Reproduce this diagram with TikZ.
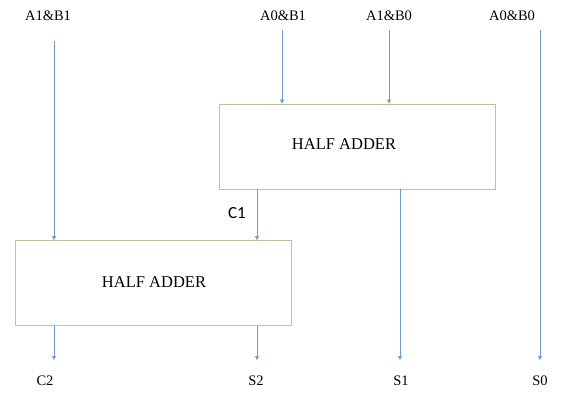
\documentclass[tikz,border=0pt]{standalone}
\usepackage{fontspec}
\setmainfont{Liberation Serif}
\newfontfamily\calib{Carlito}
\usetikzlibrary{arrows.meta}
\definecolor{wire}{RGB}{110,155,200}
\definecolor{boxc}{RGB}{185,195,160}
\begin{document}
\begin{tikzpicture}[x=1pt,y=-1pt,
  wirestyle/.style={draw=wire,line width=0.7pt,-{Triangle[width=4pt,length=4pt]}},
  ha/.style={draw=boxc,line width=0.8pt,fill=white,minimum width=276pt,minimum height=85pt,inner sep=0pt},
  hatext/.style={font=\fontsize{16.5}{19}\selectfont,inner sep=0pt},
  lbl/.style={font=\fontsize{14.5}{17}\selectfont,inner sep=0pt,anchor=center}]
\useasboundingbox (0,0) rectangle (580,415);
\node[ha] (ha1) at (357,146.5) {};
\node[ha] (ha2) at (153,283) {};
\node[hatext] (ha1t) at (344,144) {HALF ADDER};
\node[hatext] (ha2t) at (154,282) {HALF ADDER};
\node[lbl] (in1) at (48,16) {A1\&B1};
\node[lbl] (in2) at (283,16) {A0\&B1};
\node[lbl] (in3) at (389,16) {A1\&B0};
\node[lbl] (in4) at (512,16) {A0\&B0};
\node[lbl] (c2) at (45,381) {C2};
\node[lbl] (s2) at (256,381) {S2};
\node[lbl] (s1) at (401,381) {S1};
\node[lbl] (s0) at (540,381) {S0};
\node[font=\calib\fontsize{17}{20}\selectfont,inner sep=0pt] (c1) at (237,213) {C1};
\coordinate (t1) at (54,41);
\coordinate (t2) at (282,30);
\coordinate (t3) at (389,30);
\coordinate (t4) at (540,30);
\draw[wirestyle] (t1) -- (ha2.north -| t1);
\draw[wirestyle] (t2) -- (ha1.north -| t2);
\draw[wirestyle] (t3) -- (ha1.north -| t3);
\draw[wirestyle] (t4) -- (s0.north |- 0,360);
\draw[wirestyle] (ha1.south -| 257,0) -- (ha2.north -| 257,0);
\draw[wirestyle] (ha2.south -| t1) -- (54,360);
\draw[wirestyle] (ha2.south -| 257,0) -- (257,360);
\draw[wirestyle] (ha1.south -| 400,0) -- (400,360);
\end{tikzpicture}
\end{document}
